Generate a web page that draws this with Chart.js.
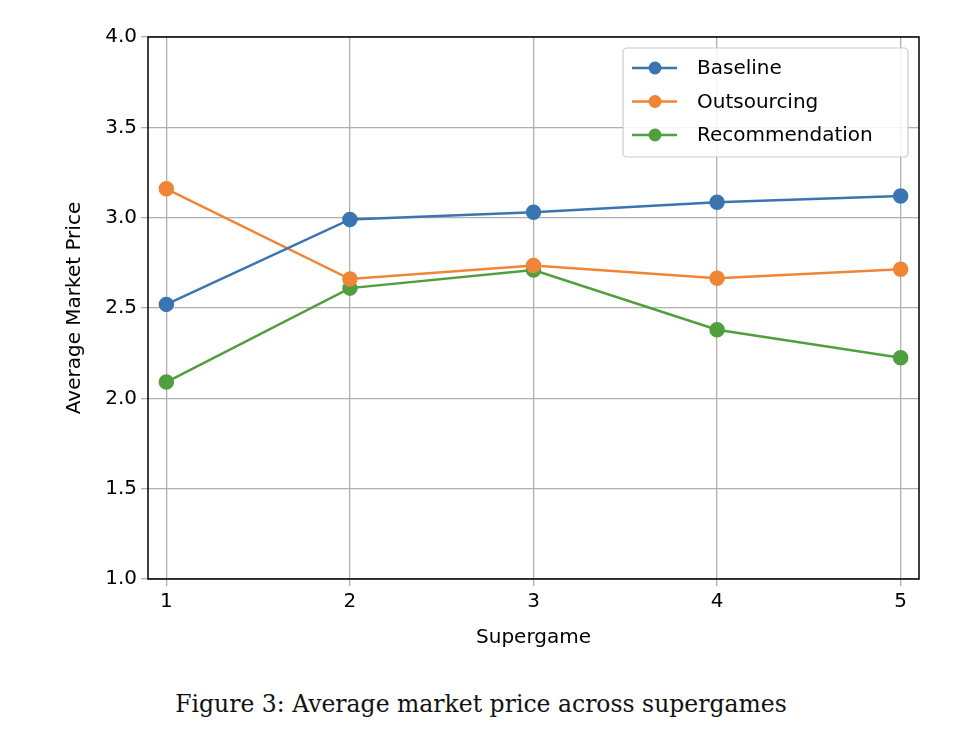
<!DOCTYPE html>
<html><head><meta charset="utf-8">
<script src="https://cdn.jsdelivr.net/npm/chart.js@4/dist/chart.umd.min.js"></script>
<style>
body{margin:0;background:#fff;}
#wrap{position:relative;width:962px;height:750px;}
#cap{position:absolute;left:0;width:962px;top:690px;text-align:center;font-family:"DejaVu Serif","Liberation Serif",serif;font-size:23.5px;color:#111;}
</style></head>
<body>
<div id="wrap">
<div style="width:962px;height:660px"><canvas id="myChart" width="962" height="660"></canvas></div>
<div id="cap">Figure 3: Average market price across supergames</div>
</div>
<script>
var supergames = [1, 2, 3, 4, 5];
var baseline = [2.52, 2.99, 3.03, 3.085, 3.12];
var outsourcing = [3.16, 2.66, 2.735, 2.665, 2.715];
var recommendation = [2.09, 2.61, 2.71, 2.38, 2.225];
var seriesNames = ['Baseline', 'Outsourcing', 'Recommendation'];
var seriesColors = ['#3b75af', '#ef8536', '#519e3e'];

function pts(vals) {
    return supergames.map(function(x, i) { return {x: x, y: vals[i]}; });
}
var font = {family: 'DejaVu Sans', size: 20};

// frame + legend box like matplotlib
var decor = {
    id: 'decor',
    afterDraw: function(chart) {
        var c = chart.ctx, a = chart.chartArea;
        c.save();
        c.strokeStyle = '#000'; c.lineWidth = 1.5;
        c.strokeRect(a.left, a.top, a.right - a.left, a.bottom - a.top);
        c.fillStyle = 'rgba(255,255,255,0.85)';
        c.strokeStyle = '#ccc'; c.lineWidth = 1.2;
        c.beginPath(); c.roundRect(623, 48, 285, 109, 4); c.fill(); c.stroke();
        c.font = '20px "DejaVu Sans"'; c.textBaseline = 'middle';
        for (var i = 0; i < 3; i++) {
            var y = 68 + i * 33.5;
            c.strokeStyle = seriesColors[i]; c.lineWidth = 2.5;
            c.beginPath(); c.moveTo(632, y); c.lineTo(677, y); c.stroke();
            c.fillStyle = seriesColors[i];
            c.beginPath(); c.arc(655, y, 6.5, 0, Math.PI * 2); c.fill();
            c.fillStyle = '#000';
            c.fillText(seriesNames[i], 697, y + 1);
        }
        c.restore();
    }
};

var sets = [baseline, outsourcing, recommendation].map(function(v, i) {
    return {label: seriesNames[i], data: pts(v), borderColor: seriesColors[i], backgroundColor: seriesColors[i],
        borderWidth: 2.5, pointRadius: 6.5, pointHoverRadius: 6.5, fill: false, tension: 0};
});

new Chart(document.getElementById('myChart').getContext('2d'), {
    type: 'line',
    data: {datasets: sets},
    plugins: [decor],
    options: {
        responsive: false, animation: false,
        layout: {padding: {left: 63, right: 43, top: 37, bottom: 0}},
        plugins: {legend: {display: false}, tooltip: {enabled: false}},
        scales: {
            x: {
                type: 'linear', min: 0.9, max: 5.1,
                afterBuildTicks: function(s) { s.ticks = supergames.map(function(v) { return {value: v}; }); },
                afterFit: function(s) { s.height = 81; },
                grid: {color: '#b0b0b0', lineWidth: 1.3, tickLength: 7},
                border: {display: false},
                ticks: {color: '#000', font: font, padding: 4},
                title: {display: true, text: 'Supergame', color: '#000', font: font, padding: {top: 4, bottom: 10}}
            },
            y: {
                min: 1.0, max: 4.0,
                afterFit: function(s) { s.width = 85; },
                grid: {color: '#b0b0b0', lineWidth: 1.3, tickLength: 7},
                border: {display: false},
                ticks: {color: '#000', font: font, stepSize: 0.5, padding: 4,
                    callback: function(v) { return v.toFixed(1); }},
                title: {display: true, text: 'Average Market Price', color: '#000', font: font, padding: {top: 0, bottom: 0}}
            }
        }
    }
});
</script>
</body></html>
